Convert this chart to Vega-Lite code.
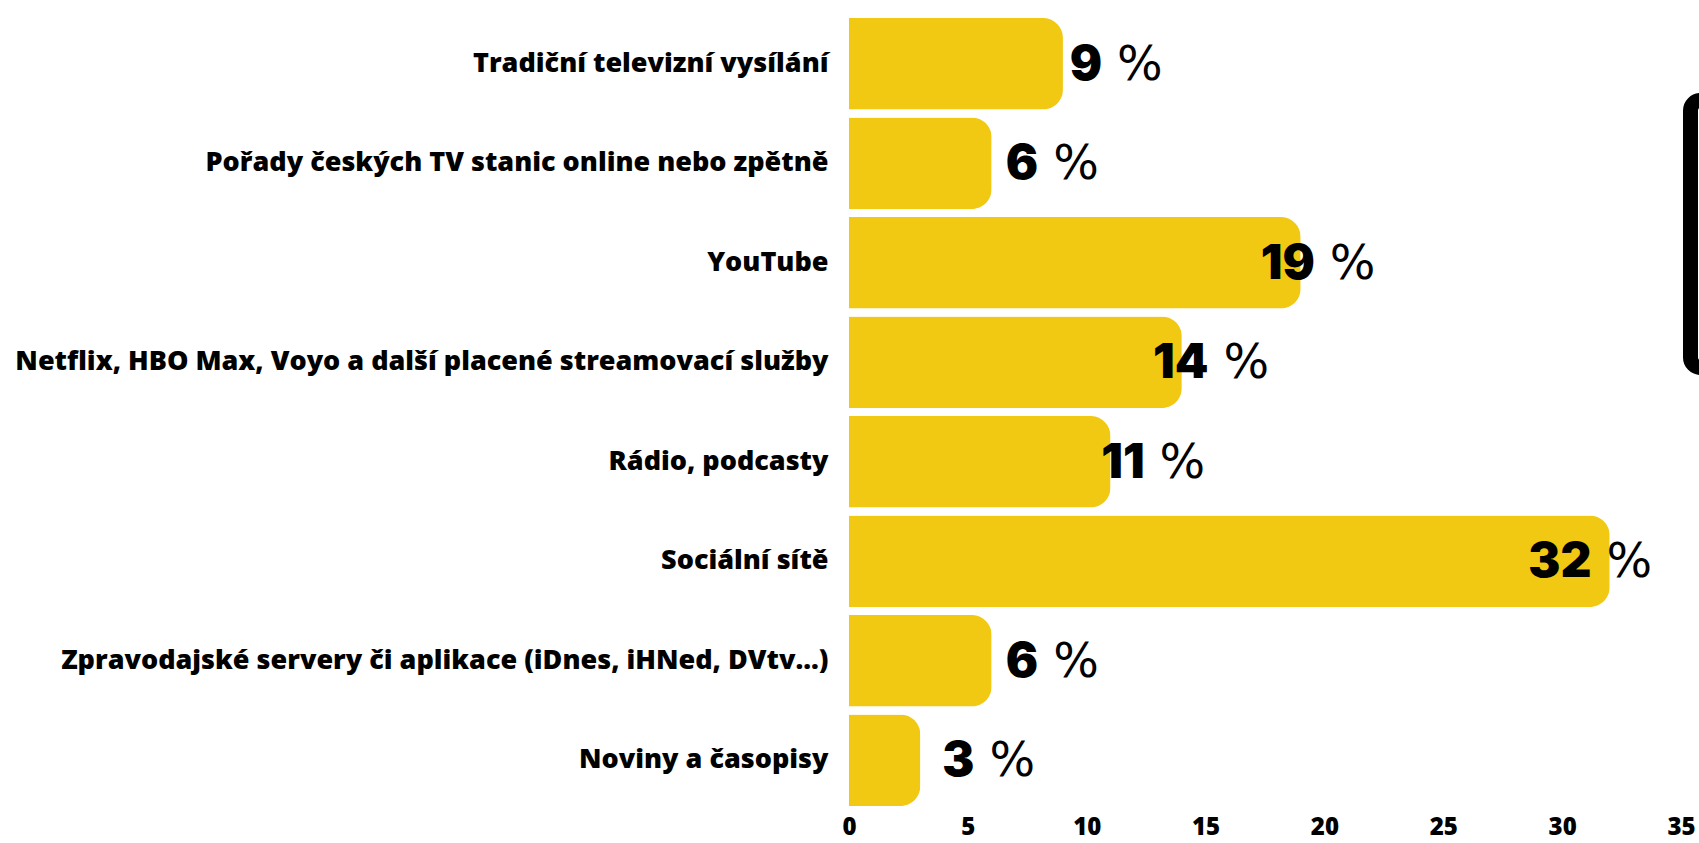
{
  "$schema": "https://vega.github.io/schema/vega-lite/v6.json",
  "autosize": {"type": "none"},
  "padding": {"left": 849, "top": 14, "right": 18, "bottom": 33},
  "width": 832,
  "height": 796,
  "background": "white",
  "config": {"view": {"stroke": null}, "legend": {"strokeWidth": 15}},
  "data": {
    "values": [
      {"kategorie": "Tradiční televizní vysílání", "podil": 9},
      {"kategorie": "Pořady českých TV stanic online nebo zpětně", "podil": 6},
      {"kategorie": "YouTube", "podil": 19},
      {"kategorie": "Netflix, HBO Max, Voyo a další placené streamovací služby ", "podil": 14},
      {"kategorie": "Rádio, podcasty", "podil": 11},
      {"kategorie": "Sociální sítě", "podil": 32},
      {"kategorie": "Zpravodajské servery či aplikace (iDnes, iHNed, DVtv...)", "podil": 6},
      {"kategorie": "Noviny a časopisy", "podil": 3}
    ]
  },
  "encoding": {
    "y": {
      "field": "kategorie",
      "type": "nominal",
      "sort": null,
      "scale": {"paddingInner": 0.08, "paddingOuter": 0.04},
      "axis": {
        "title": null,
        "ticks": false,
        "domain": false,
        "labelFont": "Open Sans",
        "labelFontWeight": 800,
        "labelFontSize": 27,
        "labelColor": "#000000",
        "labelPadding": 21,
        "labelLimit": 0
      }
    }
  },
  "layer": [
    {
      "mark": {"type": "bar", "cornerRadiusEnd": 20},
      "encoding": {
        "x": {
          "field": "podil",
          "type": "quantitative",
          "scale": {"domain": [0, 35], "nice": false},
          "axis": {
            "title": null,
            "values": [0, 5, 10, 15, 20, 25, 30, 35],
            "ticks": false,
            "domain": false,
            "grid": false,
            "labelFont": "Open Sans",
            "labelFontWeight": 800,
            "labelFontSize": 24,
            "labelColor": "#000000",
            "labelPadding": 5,
            "labelFlush": false
          }
        },
        "color": {
          "datum": "Podíl",
          "scale": {"range": ["#F1C812"]},
          "legend": {
            "orient": "none",
            "legendX": 841.5,
            "legendY": 86.5,
            "title": null,
            "strokeColor": "#000000",
            "cornerRadius": 10,
            "fillColor": "white",
            "padding": 128,
            "labelFontSize": 11,
            "labelExpr": "''",
            "symbolOpacity": 0
          }
        }
      }
    },
    {
      "mark": {"type": "text", "align": "right", "baseline": "middle", "dy": 2, "font": "Inter", "fontWeight": 900, "fontSize": 48, "color": "#000000"},
      "encoding": {
        "x": {"field": "podil", "type": "quantitative", "scale": {"domain": [-2.894, 36.21], "nice": false, "zero": false}, "axis": null},
        "text": {"field": "podil", "type": "quantitative"}
      }
    },
    {
      "mark": {"type": "text", "align": "left", "baseline": "middle", "dy": 2, "dx": 15, "font": "DejaVu Sans", "fontWeight": 400, "fontSize": 48, "color": "#000000"},
      "encoding": {
        "x": {"field": "podil", "type": "quantitative", "scale": {"domain": [-2.894, 36.21], "nice": false, "zero": false}, "axis": null},
        "text": {"value": "%"}
      }
    }
  ],
  "resolve": {"scale": {"x": "independent"}}
}
